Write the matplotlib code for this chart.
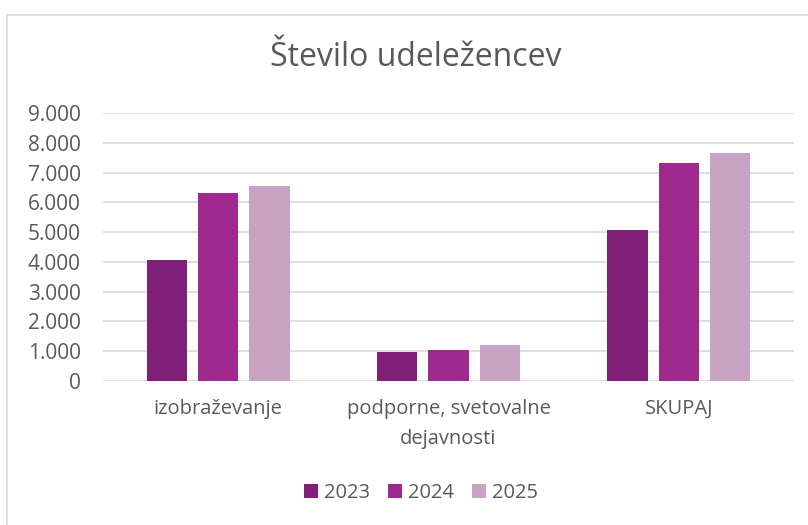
import matplotlib.pyplot as plt
import matplotlib.patches as mpatches
import numpy as np

categories = ["izobraževanje", "podporne, svetovalne\ndejavnosti", "SKUPAJ"]
years = ["2023", "2024", "2025"]
values = {
    "2023": [4060, 980, 5060],
    "2024": [6300, 1030, 7330],
    "2025": [6550, 1210, 7670],
}
colors = ["#7f1f77", "#a0298f", "#c8a2c3"]
yticks = [0, 1000, 2000, 3000, 4000, 5000, 6000, 7000, 8000, 9000]

plt.rcParams['font.family'] = ['Open Sans', 'DejaVu Sans']
gray = "#595959"

W, H = 808, 525
fig = plt.figure(figsize=(W / 100, H / 100), dpi=100)
fig.patch.set_facecolor("white")

# chart frame (cut off at right/bottom like the screenshot)
fig.patches.append(mpatches.Rectangle((7 / W, -0.1), 1.2, 1.1 - 15 / H,
                                      transform=fig.transFigure, fill=False,
                                      edgecolor="#d9d9d9", linewidth=1.2))

ax = fig.add_axes([103 / W, 1 - 381 / H, (794 - 103) / W, (381 - 113) / H])
x = np.arange(len(categories))
width = 0.174
step = 0.223
for i, (yr, c) in enumerate(zip(years, colors)):
    ax.bar(x + (i - 1) * step, values[yr], width=width, color=c, label=yr, zorder=3)

ax.set_xlim(-0.5, 2.5)
ax.set_ylim(0, 9000)
ax.set_yticks(yticks)
ax.set_yticklabels([f"{v:,}".replace(",", ".") for v in yticks], color=gray, fontsize=15)
ax.yaxis.grid(True, color="#d9d9d9", linewidth=1.2, zorder=0)
ax.tick_params(axis="y", length=0, pad=16)
ax.tick_params(axis="x", length=0, pad=13)
ax.set_xticks(x)
ax.set_xticklabels(categories, color=gray, fontsize=14.5, linespacing=1.65)
for s in ax.spines.values():
    s.set_visible(False)

fig.text(416 / W, 1 - 58 / H, "Število udeležencev", ha="center", va="center",
         fontsize=23, color=gray)

leg = fig.legend(loc="center", bbox_to_anchor=(421 / W, 1 - 493 / H), ncol=3,
                 frameon=False, fontsize=14.5, handlelength=0.7, handleheight=0.7,
                 handletextpad=0.3, columnspacing=0.9)
for t in leg.get_texts():
    t.set_color(gray)

fig.savefig("out.png", dpi=100)
